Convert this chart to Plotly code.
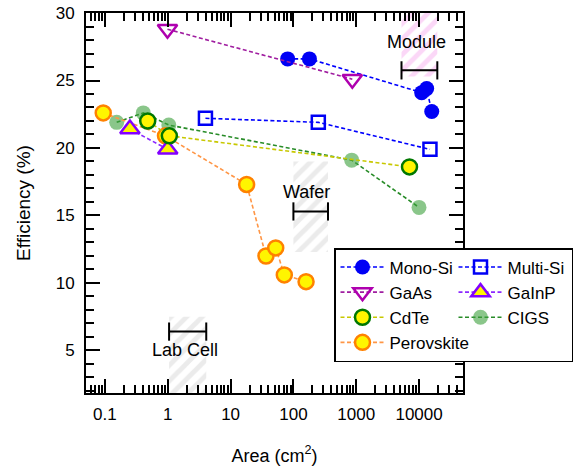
import math
import plotly.graph_objects as go

# Champion efficiencies (%) against device area (cm^2)
mono_si_area = [81, 180, 11000, 13200, 15900]
mono_si_eff = [26.6, 26.6, 24.1, 24.4, 22.7]
multi_si_area = [3.98, 249, 14900]
multi_si_eff = [22.2, 21.9, 19.9]
gaas_area = [0.99, 866]
gaas_eff = [28.8, 25.1]
gainp_area = [0.25, 1.0]
gainp_eff = [21.4, 19.9]
cdte_area = [0.48, 1.06, 7040]
cdte_eff = [22.0, 20.9, 18.6]
cigs_area = [0.154, 0.408, 1.04, 847, 9970]
cigs_eff = [21.9, 22.6, 21.7, 19.1, 15.6]
perovskite_area = [0.094, 0.92, 18, 36.6, 52.3, 71.6, 159]
perovskite_eff = [22.6, 20.9, 17.3, 12.0, 12.6, 10.6, 10.1]

# Device size classes: hatched band, range bar and label
class_names = ["Lab Cell", "Wafer", "Module"]
class_area_lo = [1.05, 100, 5250]
class_area_hi = [4.1, 355, 19500]
class_eff_lo = [0, 12.3, 25.3]
class_eff_hi = [7.5, 19.0, 31]
class_bar_eff = [6.4, 15.3, 25.75]
class_label_area = [1.88, 163, 9170]
class_label_eff = [5.03, 16.75, 27.83]
class_colors = ["rgb(215,215,215)", "rgb(215,215,215)", "rgb(248,175,240)"]

# x-axis tick labels
area_ticks = [0.1, 1, 10, 100, 1000, 10000]
area_ticktext = ["0.1", "1", "10", "100", "1000", "10000"]

FONT = "Liberation Sans, Arial, sans-serif"
DASH = "4px,2.5px"

fig = go.Figure()

# hatched size-class bands, range bars
for i, name in enumerate(class_names):
    x0, x1 = class_area_lo[i], class_area_hi[i]
    y0, y1 = class_eff_lo[i], class_eff_hi[i]
    fig.add_trace(go.Scatter(
        x=[x0, x1, x1, x0, x0], y=[y0, y0, y1, y1, y0],
        mode="lines", fill="toself", line=dict(width=0),
        fillcolor="rgba(0,0,0,0)",
        fillpattern=dict(shape="/", fgcolor=class_colors[i],
                         size=11, solidity=0.45),
        showlegend=False, hoverinfo="skip"))
    fig.add_trace(go.Scatter(
        x=[x0, x1], y=[class_bar_eff[i]] * 2, mode="lines+markers",
        line=dict(color="black", width=2),
        marker=dict(symbol="line-ns", size=13,
                    line=dict(color="black", width=2)),
        showlegend=False, hoverinfo="skip"))

series = [
    # name, x, y, line color, marker spec, legend rank
    ("CIGS", cigs_area, cigs_eff, "rgb(40,140,40)",
     dict(symbol="circle", size=15, color="rgba(60,160,60,0.6)",
          line=dict(width=0)), 6),
    ("Perovskite", perovskite_area, perovskite_eff, "rgb(255,150,70)",
     dict(symbol="circle", size=15, color="rgb(255,245,0)",
          line=dict(color="rgb(255,130,0)", width=2.5)), 7),
    ("Mono-Si", mono_si_area, mono_si_eff, "rgb(0,0,255)",
     dict(symbol="circle", size=15, color="rgb(0,0,245)",
          line=dict(width=0)), 1),
    ("Multi-Si", multi_si_area, multi_si_eff, "rgb(0,0,255)",
     dict(symbol="square-open", size=13, color="rgb(0,0,245)",
          line=dict(width=2.5)), 2),
    ("GaAs", gaas_area, gaas_eff, "rgb(160,30,160)",
     dict(symbol="triangle-down-open", size=17, color="rgb(175,0,175)",
          line=dict(width=2.5)), 3),
    ("GaInP", gainp_area, gainp_eff, "rgb(140,40,255)",
     dict(symbol="triangle-up", size=17, color="rgb(255,245,0)",
          line=dict(color="rgb(130,0,255)", width=2.5)), 4),
    ("CdTe", cdte_area, cdte_eff, "rgb(200,200,0)",
     dict(symbol="circle", size=15, color="rgb(255,245,0)",
          line=dict(color="rgb(0,120,0)", width=2.5)), 5),
]

for name, xs, ys, lc, mk, rank in series:
    fig.add_trace(go.Scatter(
        x=xs, y=ys, name=name, mode="lines+markers",
        line=dict(color=lc, width=1.6, dash=DASH),
        marker=mk, legendrank=rank, cliponaxis=False))

for i, name in enumerate(class_names):
    fig.add_annotation(
        x=math.log10(class_label_area[i]), y=class_label_eff[i],
        text=name, showarrow=False,
        font=dict(family=FONT, size=18, color="black"))

minor_area = [m * 10 ** e for e in range(-2, 5) for m in range(2, 10)]

axis_common = dict(
    showline=True, linewidth=2, linecolor="black", mirror="allticks",
    ticks="inside", ticklen=14, tickwidth=2, tickcolor="black",
    showgrid=False, zeroline=False,
    tickfont=dict(family=FONT, size=17, color="black"),
)

fig.update_xaxes(
    type="log", range=[math.log10(0.05), math.log10(50000)],
    tickmode="array", tickvals=area_ticks, ticktext=area_ticktext,
    ticklabelstandoff=5,
    minor=dict(ticks="inside", ticklen=8, tickwidth=1.5, tickcolor="black",
               tickmode="array", tickvals=minor_area, showgrid=False),
    title=dict(text="Area (cm<sup>2</sup>)", standoff=26,
               font=dict(family=FONT, size=18, color="black")),
    **axis_common)

fig.update_yaxes(
    range=[1.85, 30], tick0=0, dtick=5, ticklabelstandoff=6,
    minor=dict(ticks="inside", ticklen=8, tickwidth=1.5, tickcolor="black",
               dtick=1, tick0=0, showgrid=False),
    title=dict(text="Efficiency (%)", standoff=20,
               font=dict(family=FONT, size=19, color="black")),
    **axis_common)

fig.update_layout(
    width=585, height=469,
    margin=dict(l=86, r=122, t=13, b=76, autoexpand=False),
    paper_bgcolor="white", plot_bgcolor="white",
    font=dict(family=FONT, color="black"),
    showlegend=True,
    legend=dict(
        orientation="h", x=(573 - 86) / 377, y=(393 - 248) / 380,
        xanchor="right", yanchor="top", itemwidth=44, entrywidth=59,
        bgcolor="white", bordercolor="black", borderwidth=1.5,
        font=dict(family=FONT, size=17, color="black"),
        traceorder="normal"),
)

fig.write_html("out.html")
